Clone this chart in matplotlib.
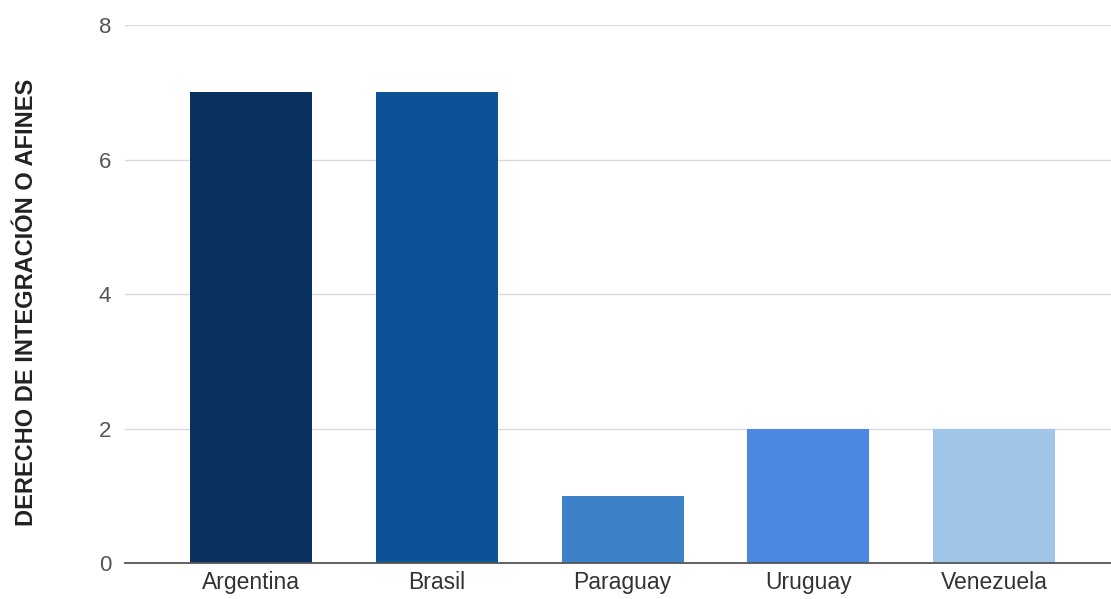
import matplotlib.pyplot as plt

plt.rcParams['font.family'] = ['Liberation Sans', 'DejaVu Sans']

countries = ['Argentina', 'Brasil', 'Paraguay', 'Uruguay', 'Venezuela']
values = [7, 7, 1, 2, 2]
colors = ['#0b325e', '#0d5296', '#3d82c8', '#4a88e2', '#9fc5e8']
yticks = [0, 2, 4, 6, 8]

fig = plt.figure(figsize=(11.11, 5.99), dpi=100)
ax = fig.add_axes([0.1125, 0.0601, 0.8875, 0.8979])

ax.bar(range(len(countries)), values, width=0.657, color=colors, zorder=3)

ax.set_ylim(0, 8)
ax.set_xlim(-0.68, 4.63)
ax.set_yticks(yticks)
ax.set_xticks(range(len(countries)))
ax.set_xticklabels(countries)
ax.grid(axis='y', color='#dadada', linewidth=1, zorder=0)

for s in ['top', 'right', 'left']:
    ax.spines[s].set_visible(False)
ax.spines['bottom'].set_color('#555555')
ax.spines['bottom'].set_linewidth(1.3)
ax.spines['bottom'].set_zorder(4)

ax.tick_params(axis='y', length=0, pad=10, labelsize=16, labelcolor='#555555')
ax.tick_params(axis='x', length=0, pad=6, labelsize=16.5, labelcolor='#333333')

ax.set_ylabel('DERECHO DE INTEGRACIÓN O AFINES', fontsize=17, fontweight='bold',
              color='#222222')
ax.yaxis.set_label_coords(-0.088, 0.485)

fig.savefig('out.png', dpi=100)
